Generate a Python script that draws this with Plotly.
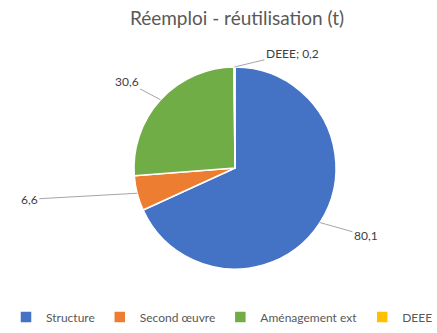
import math
import plotly.graph_objects as go

categories = ["Structure", "Second œuvre", "Aménagement ext", "DEEE"]
values = [80.1, 6.6, 30.6, 0.2]
colors = ["#4472C4", "#ED7D31", "#70AD47", "#FFC000"]
show_name = [False, False, False, True]
# label offsets (px) from the slice edge to the label
offsets = [(46, 13), (-108, 6), (-34, -18), (58, -14)]

FONT = "Lato, 'Open Sans', sans-serif"
W, H = 437, 333
T, B = 67, 64
PW, PH = W, H - T - B
# pie square placed horizontally in the plot area
px0, px1 = 134 / W, 336 / W

fig = go.Figure(go.Pie(
    labels=categories, values=values, sort=False, direction="clockwise",
    rotation=0, marker=dict(colors=colors, line=dict(color="white", width=1.5)),
    textinfo="none", hoverinfo="label+value",
    domain=dict(x=[px0, px1], y=[0, 1]),
))

total = sum(values)
cum = 0.0
annots = []
for cat, v, sn, (ax, ay) in zip(categories, values, show_name, offsets):
    mid = (cum + v / 2) / total * 2 * math.pi
    cum += v
    x = px0 + (px1 - px0) * (0.5 + 0.5 * math.sin(mid))
    y = 0.5 + 0.5 * math.cos(mid)
    val = f"{v:.1f}".replace(".", ",")
    txt = f"{cat}; {val}" if sn else val
    annots.append(dict(
        x=x, y=y, xref="paper", yref="paper", text=txt, showarrow=True,
        ax=ax, ay=ay, arrowhead=0, arrowwidth=1, arrowcolor="#A6A6A6",
        font=dict(family=FONT, size=12, color="#404040"), standoff=0,
    ))

fig.update_layout(
    width=W, height=H, margin=dict(l=0, r=0, t=T, b=B, autoexpand=False),
    paper_bgcolor="white", plot_bgcolor="white",
    title=dict(text="Réemploi - réutilisation (t)", x=237 / W, xanchor="center",
               xref="container", y=1 - 18 / H, yanchor="middle", yref="container",
               font=dict(family=FONT, size=19, color="#595959")),
    legend=dict(orientation="h", x=222 / W, xanchor="center",
                y=-(B - 16) / PH, yanchor="middle",
                font=dict(family=FONT, size=12, color="#595959"),
                traceorder="normal"),
    annotations=annots,
)

fig.write_html("out.html")
